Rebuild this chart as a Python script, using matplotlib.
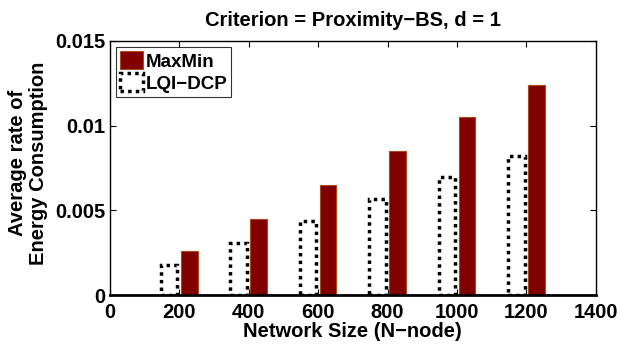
import numpy as np
import matplotlib
matplotlib.use("Agg")
import matplotlib.pyplot as plt

plt.rcParams['font.family'] = ['Liberation Sans', 'DejaVu Sans']
plt.rcParams['font.weight'] = 'bold'

# data
sizes = [200, 400, 600, 800, 1000, 1200]
maxmin = [0.0026, 0.0045, 0.0065, 0.0085, 0.0105, 0.0124]
lqi_dcp = [0.0018, 0.0031, 0.0044, 0.0057, 0.0070, 0.0082]
yticks = [0, 0.005, 0.01, 0.015]
ylabels = ['0', '0.005', '0.01', '0.015']

fs = 14.5
fig = plt.figure(figsize=(6.2, 3.44), dpi=100)
ax = fig.add_axes([0.177, 0.142, 0.784, 0.739])

x = np.array(sizes)
w = 48
ax.bar(x - 29, lqi_dcp, w, facecolor='none', edgecolor='black',
       linewidth=2.5, linestyle=(0, (1, 1.2)), label='LQI\u2212DCP')
ax.bar(x + 29, maxmin, w, facecolor='#800000', edgecolor='#a84a1a',
       linewidth=0.8, label='MaxMin')

ax.set_xlim(0, 1400)
ax.set_ylim(0, 0.015)
ax.set_xticks(np.arange(0, 1401, 200))
ax.set_yticks(yticks)
ax.set_yticklabels(ylabels)
ax.tick_params(direction='in', top=True, right=True, labelsize=fs,
               length=4, width=0.8)
ax.tick_params(axis='x', pad=6)
ax.tick_params(axis='y', pad=3)
for lab in ax.get_xticklabels() + ax.get_yticklabels():
    lab.set_fontweight('bold')
for s in ax.spines.values():
    s.set_linewidth(1.0)
ax.spines['bottom'].set_linewidth(2.0)

ax.set_title('Criterion = Proximity\u2212BS, d = 1', fontsize=fs, fontweight='bold', pad=11)
ax.set_xlabel('Network Size (N\u2212node)', fontsize=fs, fontweight='bold')
ax.xaxis.set_label_coords(0.5, -0.104)
ax.set_ylabel('Average rate of\nEnergy Consumption', fontsize=fs, fontweight='bold',
              linespacing=1.15)
ax.yaxis.set_label_coords(-0.127, 0.52)

h, l = ax.get_legend_handles_labels()
leg = ax.legend(h[::-1], l[::-1], loc='upper left', frameon=True,
                fancybox=False, edgecolor='black', handlelength=1.2, handleheight=1.1,
                handletextpad=0.15, borderpad=0.2, labelspacing=0.15,
                borderaxespad=0.35, prop={'weight': 'bold', 'size': 13.5})
leg.get_frame().set_linewidth(0.8)

fig.savefig('out.png', dpi=100)
